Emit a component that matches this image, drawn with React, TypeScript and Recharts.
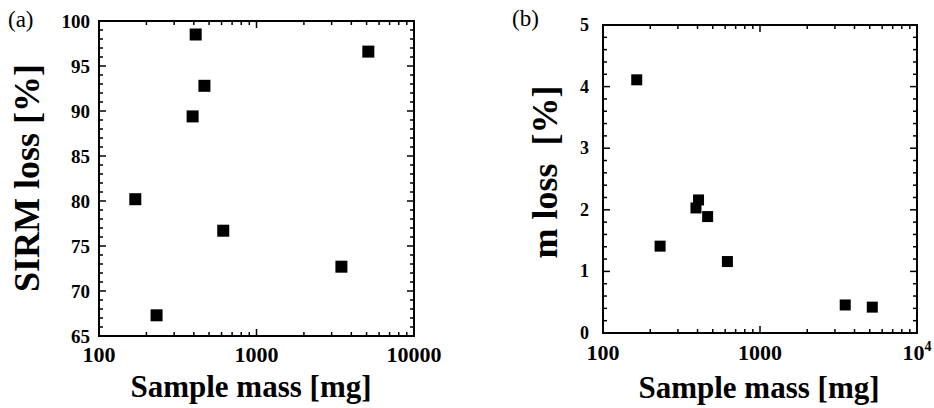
import React from 'react';
import { ScatterChart, Scatter, XAxis, YAxis } from 'recharts';

// panel (a): SIRM loss vs sample mass
const massA = [170, 232, 411, 393, 467, 615, 3460, 5130];
const sirmLoss = [80.2, 67.3, 98.5, 89.4, 92.8, 76.7, 72.7, 96.6];

// panel (b): m loss vs sample mass
const massB = [164, 231, 391, 406, 464, 620, 3490, 5190];
const mLoss = [4.11, 1.41, 2.03, 2.16, 1.89, 1.16, 0.455, 0.42];

const xMajor = [100, 1000, 10000];
const yMajorA = [65, 70, 75, 80, 85, 90, 95, 100];
const yMajorB = [0, 1, 2, 3, 4, 5];

// minor tick positions (log decades, unit steps)
const xAll: number[] = [];
[100, 1000].forEach((d) => {
  for (let k = 1; k < 10; k++) xAll.push(d * k);
});
xAll.push(10000);

const yAllA: number[] = [];
for (let v = 65; v <= 100; v++) yAllA.push(v);

const yAllB: number[] = [];
for (let i = 0; i <= 25; i++) yAllB.push(Math.round(i * 2) / 10);

const FONT = '"Liberation Serif", "Times New Roman", serif';

const dataA = massA.map((m, i) => ({ x: m, y: sirmLoss[i] }));
const dataB = massB.map((m, i) => ({ x: m, y: mLoss[i] }));

const isIn = (v: number, list: number[]) => list.some((m) => Math.abs(m - v) < 1e-6);

const SquareA = (p: any) => <rect x={p.cx - 6} y={p.cy - 6} width={12} height={12} fill="#000" />;
const SquareB = (p: any) => <rect x={p.cx - 5.5} y={p.cy - 5.5} width={11} height={11} fill="#000" />;

// plot boxes (page coords), matching the chart margins + axis sizes below
const boxA = { x: 99, y: 21, width: 315, height: 315 };
const boxB = { x: 467 + 136, y: 25, width: 314, height: 308 };

// box with inward ticks on all four sides
const frameMarks = (key: string, a: any, yMin: number, yMax: number, yMajors: number[], yAll: number[]) => {
  const { x, y, width, height } = a;
  const xp = (v: number) => x + (width * (Math.log10(v) - 2)) / 2;
  const yp = (v: number) => y + (height * (yMax - v)) / (yMax - yMin);
  const out: React.ReactNode[] = [];
  xAll.forEach((v, i) => {
    const len = isIn(v, xMajor) ? 7 : 4;
    const px = xp(v);
    out.push(<line key={`${key}xb${i}`} x1={px} x2={px} y1={y + height} y2={y + height - len} />);
    out.push(<line key={`${key}xt${i}`} x1={px} x2={px} y1={y} y2={y + len} />);
  });
  yAll.forEach((v, i) => {
    const len = isIn(v, yMajors) ? 7 : 4;
    const py = yp(v);
    out.push(<line key={`${key}yl${i}`} x1={x} x2={x + len} y1={py} y2={py} />);
    out.push(<line key={`${key}yr${i}`} x1={x + width} x2={x + width - len} y1={py} y2={py} />);
  });
  out.push(<rect key={`${key}box`} x={x} y={y} width={width} height={height} fill="none" strokeWidth={2} />);
  return out;
};

const xTickA = (props: any) => {
  const v = props.payload.value;
  return (
    <text x={props.x} y={props.y + 26} textAnchor="middle" fontFamily={FONT} fontWeight="bold" fontSize={22} fill="#000">
      {isIn(v, xMajor) ? String(v) : ''}
    </text>
  );
};

const xTickB = (props: any) => {
  const v = props.payload.value;
  return (
    <text x={props.x} y={props.y + 27} textAnchor="middle" fontFamily={FONT} fontWeight="bold" fontSize={22} fill="#000">
      {v === 10000 ? (
        <>
          <tspan>10</tspan>
          <tspan dy={-9} fontSize={14}>4</tspan>
        </>
      ) : isIn(v, xMajor) ? (
        String(v)
      ) : (
        ''
      )}
    </text>
  );
};

const yTickA = (props: any) => {
  const v = props.payload.value;
  return (
    <text x={props.x - 9} y={props.y + 6.5} textAnchor="end" fontFamily={FONT} fontWeight="bold" fontSize={19} fill="#000">
      {isIn(v, yMajorA) ? String(v) : ''}
    </text>
  );
};

const yTickB = (props: any) => {
  const v = props.payload.value;
  return (
    <text x={props.x - 14} y={props.y + 6} textAnchor="end" fontFamily={FONT} fontWeight="bold" fontSize={18} fill="#000">
      {isIn(v, yMajorB) ? String(v) : ''}
    </text>
  );
};

const axisLine = { stroke: '#000', strokeWidth: 2 };

export default function App() {
  return (
    <div style={{ position: 'absolute', left: 0, top: 0, width: 934, height: 408, background: '#fff' }}>
      <div style={{ position: 'absolute', left: 0, top: 0 }}>
        <ScatterChart width={467} height={408} margin={{ top: 21, right: 53, bottom: 0, left: 0 }}>
          <XAxis
            dataKey="x"
            type="number"
            scale="log"
            domain={[100, 10000]}
            allowDataOverflow
            ticks={xAll}
            interval={0}
            height={72}
            tickSize={0}
            tickMargin={0}
            axisLine={axisLine}
            tick={xTickA}
          />
          <YAxis
            dataKey="y"
            type="number"
            domain={[65, 100]}
            allowDataOverflow
            ticks={yAllA}
            interval={0}
            width={99}
            tickSize={0}
            tickMargin={0}
            axisLine={axisLine}
            tick={yTickA}
          />
          <Scatter data={dataA} shape={SquareA} isAnimationActive={false} />
          <text x={8} y={27} fontFamily={FONT} fontSize={23} fill="#000">(a)</text>
          <text x={27} y={178} transform="rotate(-90 27 178)" textAnchor="middle" dy={12} fontFamily={FONT} fontWeight="bold" fontSize={36} fill="#000">
            SIRM loss [%]
          </text>
          <text x={251} y={397} textAnchor="middle" fontFamily={FONT} fontWeight="bold" fontSize={31} fill="#000">
            Sample mass [mg]
          </text>
        </ScatterChart>
      </div>
      <div style={{ position: 'absolute', left: 467, top: 0 }}>
        <ScatterChart width={467} height={408} margin={{ top: 25, right: 17, bottom: 0, left: 0 }}>
          <XAxis
            dataKey="x"
            type="number"
            scale="log"
            domain={[100, 10000]}
            allowDataOverflow
            ticks={xAll}
            interval={0}
            height={75}
            tickSize={0}
            tickMargin={0}
            axisLine={axisLine}
            tick={xTickB}
          />
          <YAxis
            dataKey="y"
            type="number"
            domain={[0, 5]}
            allowDataOverflow
            ticks={yAllB}
            interval={0}
            width={136}
            tickSize={0}
            tickMargin={0}
            axisLine={axisLine}
            tick={yTickB}
          />
          <Scatter data={dataB} shape={SquareB} isAnimationActive={false} />
          <text x={45} y={26} fontFamily={FONT} fontSize={23} fill="#000">(b)</text>
          <text x={78} y={172} transform="rotate(-90 78 172)" textAnchor="middle" dy={12} fontFamily={FONT} fontWeight="bold" fontSize={36} fill="#000" style={{ whiteSpace: 'pre' }}>
            {'m loss  [%]'}
          </text>
          <text x={292} y={398} textAnchor="middle" fontFamily={FONT} fontWeight="bold" fontSize={31} fill="#000">
            Sample mass [mg]
          </text>
        </ScatterChart>
      </div>
      <svg width={934} height={408} style={{ position: 'absolute', left: 0, top: 0, pointerEvents: 'none' }}>
        <g stroke="#000" strokeWidth={1.5}>
          {frameMarks('a', boxA, 65, 100, yMajorA, yAllA)}
          {frameMarks('b', boxB, 0, 5, yMajorB, yAllB)}
        </g>
      </svg>
    </div>
  );
}
